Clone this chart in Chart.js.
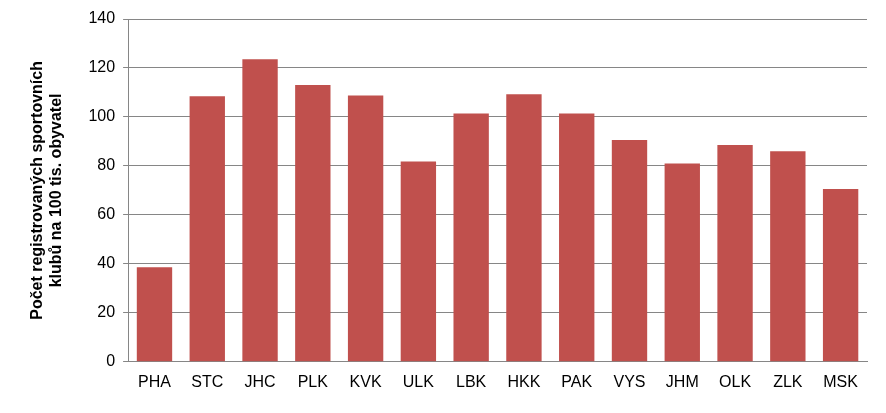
<!DOCTYPE html>
<html><head><meta charset="utf-8">
<script src="https://cdn.jsdelivr.net/npm/chart.js@4"></script>
<style>html,body{margin:0;background:#fff}#w{width:886px;height:413px}</style>
</head><body><div id="w"><canvas id="c"></canvas></div>
<script>
const categories=["PHA","STC","JHC","PLK","KVK","ULK","LBK","HKK","PAK","VYS","JHM","OLK","ZLK","MSK"];
const values=[38.6,108.4,123.6,113,108.8,81.8,101.4,109.3,101.4,90.6,81,88.5,86,70.6];
new Chart(document.getElementById('c'),{type:'bar',
data:{labels:categories,datasets:[{data:values,backgroundColor:'#C0504D',barPercentage:0.67,categoryPercentage:1}]},
options:{responsive:true,maintainAspectRatio:false,animation:false,
layout:{padding:{left:24,right:19,top:19,bottom:18}},
plugins:{legend:{display:false},tooltip:{enabled:false}},
scales:{
x:{grid:{display:false},border:{color:'#868686'},ticks:{color:'#000',font:{family:'Liberation Sans',size:16}}},
y:{min:0,max:140,ticks:{stepSize:20,color:'#000',padding:8,font:{family:'Liberation Sans',size:16}},
grid:{color:'#868686',drawTicks:true,tickLength:5},border:{color:'#868686'},
title:{display:true,text:['Počet registrovaných sportovních','klubů na 100 tis. obyvatel'],color:'#000',font:{family:'Liberation Sans',size:16,weight:'bold'},padding:{bottom:14}}}
}}});
</script></body></html>
